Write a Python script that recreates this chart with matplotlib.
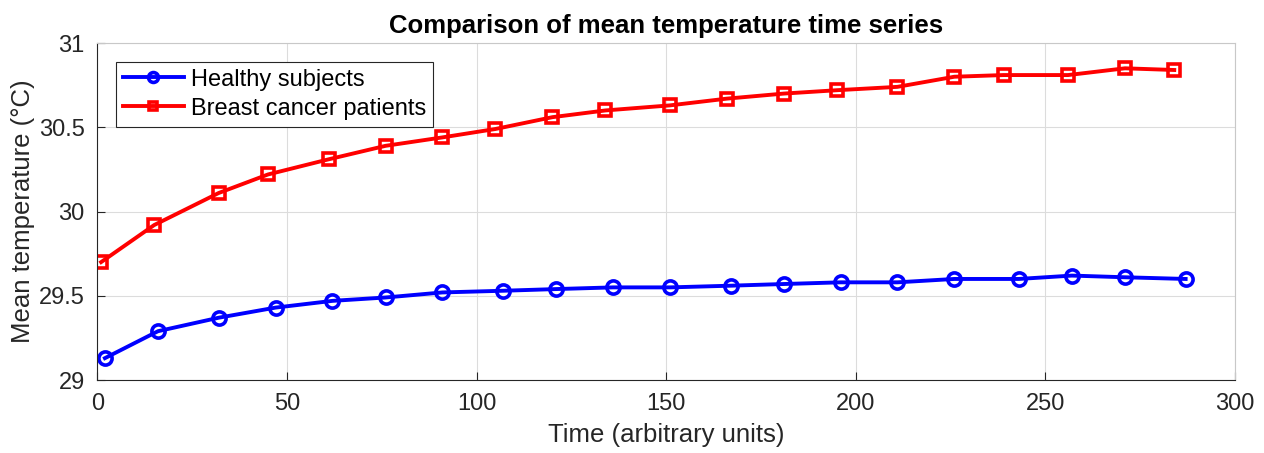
import numpy as np
import matplotlib.pyplot as plt

plt.rcParams['font.family'] = ['Liberation Sans', 'DejaVu Sans']

# Data
healthy_t = [2, 16, 32, 47, 62, 76, 91, 107, 121, 136, 151, 167, 181, 196, 211, 226, 243, 257, 271, 287]
healthy_temp = [29.13, 29.29, 29.37, 29.43, 29.47, 29.49, 29.52, 29.53, 29.54, 29.55,
                29.55, 29.56, 29.57, 29.58, 29.58, 29.60, 29.60, 29.62, 29.61, 29.60]

cancer_t = [1, 15, 32, 45, 61, 76, 91, 105, 120, 134, 151, 166, 181, 195, 211, 226, 239, 256, 271, 284]
cancer_temp = [29.70, 29.92, 30.11, 30.22, 30.31, 30.39, 30.44, 30.49, 30.56, 30.60,
               30.63, 30.67, 30.70, 30.72, 30.74, 30.80, 30.81, 30.81, 30.85, 30.84]

x_ticks = [0, 50, 100, 150, 200, 250, 300]
y_ticks = [29, 29.5, 30, 30.5, 31]
y_tick_labels = ['29', '29.5', '30', '30.5', '31']

fig = plt.figure(figsize=(12.64, 4.53), dpi=100)
ax = fig.add_axes([0.077, 0.161, 0.9, 0.744])

ax.plot(healthy_t, healthy_temp, '-o', color='#0000ff', lw=2.8, ms=9.5, mew=2.6,
        mfc='none', label='Healthy subjects')
ax.plot(cancer_t, cancer_temp, '-s', color='#ff0000', lw=2.8, ms=8.5, mew=2.6,
        mfc='none', label='Breast cancer patients')

ax.set_xlim(0, 300)
ax.set_ylim(29, 31)
ax.set_xticks(x_ticks)
ax.set_yticks(y_ticks)
ax.set_yticklabels(y_tick_labels)
ax.grid(True, color='#dcdcdc', lw=0.8)
ax.set_axisbelow(True)
ax.tick_params(direction='in', length=6, color='#262626', labelsize=17,
               labelcolor='#262626', pad=9)
for s in ax.spines.values():
    s.set_color('#262626')
    s.set_linewidth(0.8)
for s in ['top', 'right']:
    ax.spines[s].set_color('#c8c8c8')

ax.set_xlabel('Time (arbitrary units)', fontsize=18.5, color='#262626', labelpad=6)
ax.set_ylabel('Mean temperature (°C)', fontsize=18.5, color='#262626', labelpad=3)
ax.set_title('Comparison of mean temperature time series', fontsize=18.5,
             fontweight='bold', pad=7)

leg = ax.legend(loc='upper left', fontsize=17, fancybox=False, framealpha=1,
                edgecolor='#262626', borderpad=0.3, handlelength=2.6,
                handletextpad=0.3, labelspacing=0.3, markerscale=0.75,
                bbox_to_anchor=(0.016, 0.945), borderaxespad=0)
leg.get_frame().set_linewidth(0.8)

fig.savefig('out.png', dpi=100)
